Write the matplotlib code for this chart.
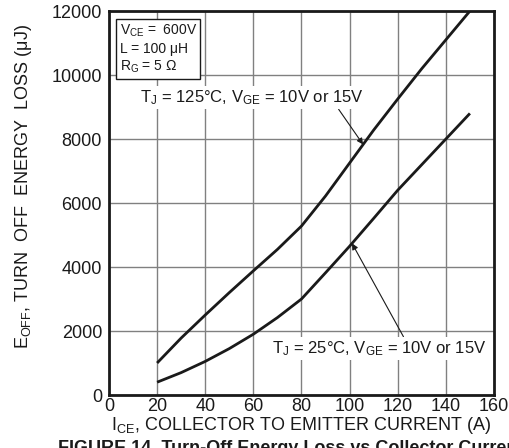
import matplotlib.pyplot as plt

plt.rcParams['font.family'] = ['Liberation Sans', 'DejaVu Sans']
plt.rcParams['mathtext.fontset'] = 'custom'
plt.rcParams['mathtext.rm'] = 'Liberation Sans'
plt.rcParams['mathtext.it'] = 'Liberation Sans:italic'

# collector current (A)
ice = [20, 30, 40, 50, 60, 70, 80, 90, 100, 110, 120, 130, 140, 150]
# turn-off energy (uJ)
eoff_125 = [1000, 1780, 2500, 3200, 3880, 4550, 5280, 6220, 7250, 8280, 9250, 10200, 11100, 12000]
eoff_25 = [400, 700, 1050, 1450, 1900, 2420, 3000, 3820, 4650, 5520, 6400, 7200, 8000, 8800]

x_ticks = [0, 20, 40, 60, 80, 100, 120, 140, 160]
y_ticks = [0, 2000, 4000, 6000, 8000, 10000, 12000]

fig = plt.figure(figsize=(5.09, 4.48), dpi=100)
ax = fig.add_axes([0.2141, 0.1183, 0.7564, 0.8571])

for e in (eoff_125, eoff_25):
    ax.plot(ice, e, color='#1a1a1a', lw=2.0, solid_capstyle='butt',
            solid_joinstyle='round', zorder=3)

ax.set_xlim(0, 160)
ax.set_ylim(0, 12000)
ax.set_xticks(x_ticks)
ax.set_yticks(y_ticks)
ax.grid(True, color='#808080', lw=1.0)
ax.set_axisbelow(True)
ax.tick_params(length=0, labelsize=13, colors='#1a1a1a')
ax.tick_params(axis='x', pad=2)
ax.tick_params(axis='y', pad=5)
for s in ax.spines.values():
    s.set_linewidth(2.0)
    s.set_color('#1a1a1a')

ax.set_xlabel(r'I$_{\mathregular{CE}}$, COLLECTOR TO EMITTER CURRENT (A)',
              fontsize=13, labelpad=0, color='#1a1a1a')
ax.set_ylabel(r'E$_{\mathregular{OFF}}$, TURN  OFF  ENERGY  LOSS (μJ)',
              fontsize=13, color='#1a1a1a')
ax.yaxis.set_label_coords(-0.195, 0.542)

# test conditions box
ax.text(4.4, 11640,
        'V$_{\\mathregular{CE}}$ =  600V\nL = 100 μH\nR$_{\\mathregular{G}}$ = 5 Ω',
        fontsize=10, va='top', ha='left', linespacing=1.25, color='#1a1a1a',
        bbox=dict(boxstyle='square,pad=0.25', fc='white', ec='#1a1a1a', lw=1.0),
        zorder=4)

ax.annotate('T$_{\\mathregular{J}}$ = 125°C, V$_{\\mathregular{GE}}$ = 10V or 15V',
            xy=(105.6, 7830), xytext=(12.9, 9300), fontsize=12,
            va='center', ha='left', color='#1a1a1a',
            bbox=dict(boxstyle='square,pad=0.15', fc='white', ec='none'),
            arrowprops=dict(arrowstyle='-|>', color='#1a1a1a', lw=0.8,
                            mutation_scale=9, shrinkA=0, shrinkB=0,
                            relpos=(0.88, 0.0)),
            zorder=4)

ax.annotate('T$_{\\mathregular{J}}$ = 25°C, V$_{\\mathregular{GE}}$ = 10V or 15V',
            xy=(101.0, 4740), xytext=(67.7, 1450), fontsize=12,
            va='center', ha='left', color='#1a1a1a',
            bbox=dict(boxstyle='square,pad=0.15', fc='white', ec='none'),
            arrowprops=dict(arrowstyle='-|>', color='#1a1a1a', lw=0.8,
                            mutation_scale=9, shrinkA=0, shrinkB=0,
                            relpos=(0.62, 1.0)),
            zorder=4)

fig.text(0.113, 0.018, 'FIGURE 14. Turn-Off Energy Loss vs Collector Current',
         fontsize=13, fontweight='bold', ha='left', va='top', color='#1a1a1a')

fig.savefig('out.png', dpi=100)
